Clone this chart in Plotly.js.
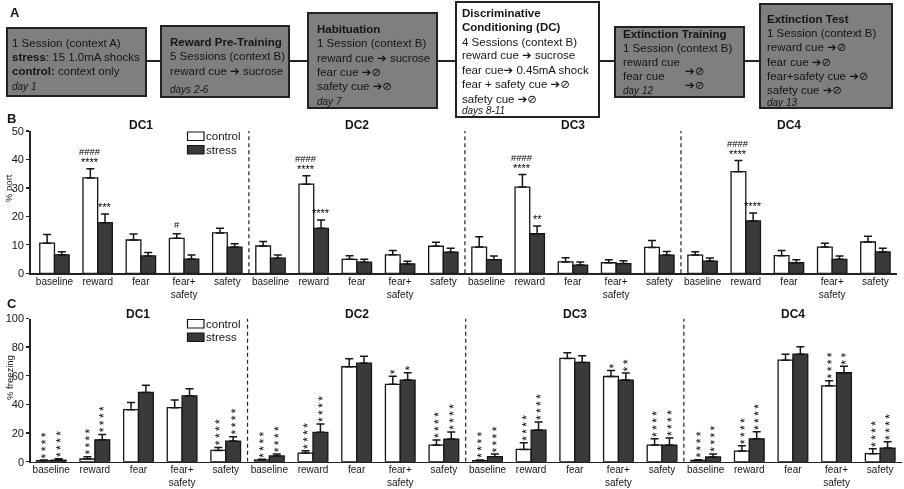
<!DOCTYPE html>
<html><head><meta charset="utf-8">
<script src="https://cdn.plot.ly/plotly-3.0.1.min.js"></script>
<style>html,body{margin:0;padding:0;background:#fff;overflow:hidden}
.main-svg{will-change:transform;opacity:0.999}</style>
</head><body><div id="chart" style="width:904px;height:489px"></div>
<script>
// ---------------- data ----------------
const sessions = ['DC1', 'DC2', 'DC3', 'DC4'];
const cues = ['baseline', 'reward', 'fear', 'fear+<br>safety', 'safety'];
const groups = ['control', 'stress'];

// Panel B: % port (DC1..DC4 x baseline,reward,fear,fear+safety,safety)
const portControl    = [10.6, 33.5, 11.7, 12.3, 14.2,  9.6, 31.3, 4.9, 6.5, 9.5,  9.2, 30.3, 4.0, 3.7, 9.1,  6.4, 35.7, 6.2, 9.2, 11.0];
const portControlErr = [3.0, 3.2, 2.1, 1.6, 1.6,  1.6, 3.0, 1.3, 1.5, 1.4,  3.6, 4.4, 1.5, 1.1, 2.4,  1.2, 3.9, 1.8, 1.4, 2.0];
const portStress     = [6.5, 17.8, 6.1, 5.0, 9.2,  5.3, 15.8, 3.9, 3.3, 7.4,  4.8, 13.9, 2.9, 3.4, 6.4,  4.3, 18.4, 3.7, 4.9, 7.5];
const portStressErr  = [1.1, 3.0, 1.2, 1.4, 1.2,  1.1, 2.9, 1.0, 0.9, 1.4,  1.3, 2.7, 1.1, 1.0, 1.3,  1.1, 2.8, 1.1, 1.2, 1.3];

// Panel C: % freezing
const freezeControl    = [0.7, 1.9, 36.3, 37.7, 7.9,  1.2, 6.0, 66.3, 54.0, 11.6,  0.7, 8.6, 72.1, 59.5, 11.6,  0.9, 7.4, 70.9, 53.0, 5.6];
const freezeControlErr = [0.4, 1.6, 5.1, 5.3, 2.1,  0.5, 1.6, 5.6, 5.6, 3.5,  0.4, 4.7, 3.9, 4.2, 4.4,  0.5, 3.7, 4.2, 3.5, 3.5];
const freezeStress     = [1.0, 15.3, 48.4, 46.0, 14.4,  4.0, 20.5, 68.8, 57.0, 15.8,  3.5, 22.1, 69.3, 57.0, 11.6,  3.3, 16.0, 75.1, 62.1, 9.5];
const freezeStressErr  = [1.0, 3.7, 4.9, 4.9, 3.0,  1.4, 5.8, 4.9, 5.1, 4.9,  1.8, 5.6, 4.7, 4.9, 4.9,  2.0, 4.9, 5.1, 4.6, 4.4];

// significance marks
const portHashControl = ['', '####', '', '#', '',  '', '####', '', '', '',  '', '####', '', '', '',  '', '####', '', '', ''];
const portStarControl = ['', '****', '', '', '',  '', '****', '', '', '',  '', '****', '', '', '',  '', '****', '', '', ''];
const portStarStress  = ['', '***', '', '', '',  '', '****', '', '', '',  '', '**', '', '', '',  '', '****', '', '', ''];
const freezeStarsControl = [4, 4, 0, 0, 4,  4, 4, 0, 1, 4,  4, 4, 0, 1, 4,  4, 4, 0, 4, 4];
const freezeStarsStress  = [4, 4, 0, 0, 4,  4, 4, 0, 1, 4,  4, 4, 0, 2, 4,  4, 4, 0, 2, 4];

// Panel A: protocol text
const AR = '<span style="font-family:DejaVu Sans">\u2794</span>', NO = '<span style="font-family:DejaVu Sans">\u2298</span>';
const box1Text = ['1 Session (context A)', '<b>stress</b>: 15 1.0mA shocks', '<b>control:</b> context only', '<i>day 1</i>'];
const box2Text = ['<b>Reward Pre-Training</b>', '5 Sessions (context B)', 'reward cue ' + AR + ' sucrose', '<i>days 2-6</i>'];
const box3Text = ['<b>Habituation</b>', '1 Session (context B)', 'reward cue ' + AR + ' sucrose', 'fear cue ' + AR + NO, 'safety cue ' + AR + NO, '<i>day 7</i>'];
const box4Text = ['<b>Discriminative</b>', '<b>Conditioning (DC)</b>', '4 Sessions (context B)', 'reward cue ' + AR + ' sucrose', 'fear cue' + AR + ' 0.45mA shock', 'fear + safety cue ' + AR + NO, 'safety cue ' + AR + NO, '<i>days 8-11</i>'];
const box5Text = ['<b>Extinction Training</b>', '1 Session (context B)', 'reward cue', 'fear cue', '<i>day 12</i>'];
const box5Arrows = [AR + NO, AR + NO];
const box6Text = ['<b>Extinction Test</b>', '1 Session (context B)', 'reward cue ' + AR + NO, 'fear cue ' + AR + NO, 'fear+safety cue ' + AR + NO, 'safety cue ' + AR + NO, '<i>day 13</i>'];

// ---------------- layout helpers ----------------
const W = 904, H = 489;
const px = x => x / W, py = y => 1 - y / H;
const F = 'Liberation Sans, Arial, Helvetica, sans-serif';
const INK = '#151515';
const AF = 11.5; // panel A text size

const idx = [], tickText = [];
sessions.forEach((s, si) => cues.forEach((c, ci) => { idx.push(si * cues.length + ci); tickText.push(c); }));
const zeros = idx.map(() => 0);
const sessionCenters = sessions.map((s, si) => si * cues.length + (cues.length - 1) / 2);
const dividers = sessions.slice(1).map((s, k) => (k + 1) * cues.length - 0.5);

const fills = { control: '#ffffff', stress: '#3a3a3a' };
function barTrace(y, err, grp, xa, ya) {
  return {
    type: 'bar', x: idx, y: y, name: grp, xaxis: xa, yaxis: ya, showlegend: false,
    marker: { color: fills[grp], line: { color: INK, width: 1.3 } },
    error_y: { type: 'data', symmetric: false, array: err, arrayminus: zeros, color: INK, thickness: 1.5, width: 4 },
    hoverinfo: 'skip'
  };
}
const traces = [
  barTrace(portControl, portControlErr, 'control', 'x', 'y'),
  barTrace(portStress, portStressErr, 'stress', 'x', 'y'),
  barTrace(freezeControl, freezeControlErr, 'control', 'x2', 'y2'),
  barTrace(freezeStress, freezeStressErr, 'stress', 'x2', 'y2')
];

const ann = [];
const shapes = [];
function txt(text, x, y, o) {
  ann.push(Object.assign({ text: text, x: px(x), y: py(y), xref: 'paper', yref: 'paper', showarrow: false,
    xanchor: 'left', yanchor: 'middle', font: { family: F, size: AF, color: INK } }, o || {}));
}

// ---- Panel A ----
const boxes = [
  { x0: 7, x1: 146, y0: 28, y1: 96, fill: '#7f7f7f', tx: 10, ly: [43, 57, 71, 87], text: box1Text },
  { x0: 161, x1: 289, y0: 26, y1: 97, fill: '#7f7f7f', tx: 168, ly: [42, 56, 70.5, 89], text: box2Text },
  { x0: 308, x1: 437, y0: 13, y1: 108, fill: '#7f7f7f', tx: 315, ly: [28.5, 43, 57.5, 72, 86.5, 101], text: box3Text },
  { x0: 456, x1: 599, y0: 2, y1: 117, fill: '#ffffff', tx: 460, ly: [12.5, 27, 41.5, 55, 69.5, 84, 98.5, 110.5], text: box4Text },
  { x0: 615, x1: 744, y0: 27, y1: 97, fill: '#7f7f7f', tx: 621, ly: [34, 48, 62, 75.5, 90.5], text: box5Text },
  { x0: 760, x1: 892, y0: 4, y1: 108, fill: '#7f7f7f', tx: 765, ly: [19.5, 33.5, 47.5, 62, 76, 90.5, 103], text: box6Text }
];
boxes.forEach((b, bi) => {
  shapes.push({ type: 'rect', xref: 'paper', yref: 'paper', x0: px(b.x0), x1: px(b.x1), y0: py(b.y0), y1: py(b.y1),
    fillcolor: b.fill, line: { color: '#222', width: 2 }, layer: 'below' });
  if (bi > 0) {
    const prev = boxes[bi - 1];
    shapes.push({ type: 'line', xref: 'paper', yref: 'paper', x0: px(prev.x1), x1: px(b.x0), y0: py(61), y1: py(61),
      line: { color: '#222', width: 2 } });
  }
  b.text.forEach((t, li) => {
    const isDay = t.indexOf('<i>') === 0;
    txt(t, b.tx, b.ly[li], { font: { family: F, size: isDay ? 10 : AF, color: INK } });
  });
});
txt(box5Arrows[0], 683, 68.5, { yanchor: 'top', yshift: 6 });
txt(box5Arrows[1], 683, 82, { yanchor: 'top', yshift: 6 });

// panel letters
txt('<b>A</b>', 8, 12.5, { font: { family: F, size: 13, color: INK } });
txt('<b>B</b>', 5, 118.5, { font: { family: F, size: 13, color: INK } });
txt('<b>C</b>', 5, 303, { font: { family: F, size: 13, color: INK } });

// ---- session titles ----
sessionCenters.forEach((c, i) => {
  ann.push({ text: '<b>' + sessions[i] + '</b>', x: c, xref: 'x', y: py(125), yref: 'paper', showarrow: false,
    xanchor: 'center', yanchor: 'middle', font: { family: F, size: 12, color: INK } });
  ann.push({ text: '<b>' + sessions[i] + '</b>', x: c, xref: 'x2', y: py(314), yref: 'paper', showarrow: false,
    xanchor: 'center', yanchor: 'middle', font: { family: F, size: 12, color: INK } });
});

// dividers
dividers.forEach(d => {
  shapes.push({ type: 'line', xref: 'x', yref: 'y', x0: d, x1: d, y0: 0, y1: 50, line: { color: '#222', width: 1.2, dash: '4px,3px' } });
  shapes.push({ type: 'line', xref: 'x2', yref: 'y2', x0: d, x1: d, y0: 0, y1: 100, line: { color: '#222', width: 1.2, dash: '4px,3px' } });
});

// custom legends
[[132, 145.5], [319.5, 333]].forEach(pair => {
  groups.forEach((g, gi) => {
    const top = pair[gi];
    shapes.push({ type: 'rect', xref: 'paper', yref: 'paper', x0: px(187.5), x1: px(204), y0: py(top), y1: py(top + 8.5),
      fillcolor: fills[g], line: { color: INK, width: 1.2 } });
    txt(g, 203.5, top + 4.3, { font: { family: F, size: 11.5, color: INK } });
  });
});

// axis titles
txt('% port', 9, 188, { xanchor: 'center', textangle: -90, font: { family: F, size: 9.5, color: INK } });
txt('% freezing', 9, 378, { xanchor: 'center', textangle: -90, font: { family: F, size: 9.5, color: INK } });

// significance in B
const OFF = 0.17;
idx.forEach(i => {
  const topC = portControl[i] + portControlErr[i];
  const topS = portStress[i] + portStressErr[i];
  if (portStarControl[i]) {
    ann.push({ text: portStarControl[i], x: i - OFF, xref: 'x', y: topC, yref: 'y', showarrow: false, xanchor: 'center', yanchor: 'bottom', yshift: -1, font: { family: F, size: 11, color: '#000' } });
  }
  if (portHashControl[i]) {
    ann.push({ text: portHashControl[i], x: i - OFF, xref: 'x', y: topC, yref: 'y', showarrow: false, xanchor: 'center', yanchor: 'bottom', yshift: portStarControl[i] ? 10 : 2, font: { family: F, size: 9.5, color: '#000' } });
  }
  if (portStarStress[i]) {
    ann.push({ text: portStarStress[i], x: i + OFF, xref: 'x', y: topS, yref: 'y', showarrow: false, xanchor: 'center', yanchor: 'bottom', yshift: -1, font: { family: F, size: 11, color: '#000' } });
  }
});

// significance in C (vertical stacks)
function stack(n) { return Array(n).fill('*').join('\u2009'); }
idx.forEach(i => {
  [[freezeStarsControl, freezeControl, freezeControlErr, -OFF], [freezeStarsStress, freezeStress, freezeStressErr, OFF]].forEach(s => {
    const n = s[0][i];
    if (!n) return;
    ann.push({ text: stack(n), x: i + s[3], xref: 'x2', y: s[1][i] + s[2][i], yref: 'y2', showarrow: false, textangle: -90,
      xanchor: 'center', yanchor: 'bottom', yshift: 0, xshift: 2.5, font: { family: F, size: 12, color: '#000' } });
  });
});

const xCommon = {
  tickmode: 'array', tickvals: idx, ticktext: tickText, ticks: '', showline: true, linecolor: '#222', linewidth: 1.5,
  showgrid: false, zeroline: false, tickfont: { family: F, size: 10, color: INK }, fixedrange: true, ticklabelstandoff: -2
};
const yCommon = {
  ticks: 'outside', ticklen: 3, tickwidth: 1.3, tickcolor: '#222', showline: true, linecolor: '#222', linewidth: 1.5,
  showgrid: false, zeroline: false, tickfont: { family: F, size: 11, color: INK }, fixedrange: true
};

const layout = {
  width: W, height: H, margin: { l: 0, r: 0, t: 0, b: 0 }, paper_bgcolor: '#fff', plot_bgcolor: 'rgba(0,0,0,0)',
  barmode: 'group', bargap: 0.32, bargroupgap: 0, showlegend: false,
  font: { family: F, color: INK },
  xaxis: Object.assign({}, xCommon, { domain: [px(30.7), px(897)], range: [-0.55, 19.5], anchor: 'y' }),
  yaxis: Object.assign({}, yCommon, { domain: [py(273.3), py(131)], range: [0, 50], tickvals: [0, 10, 20, 30, 40, 50], anchor: 'x' }),
  xaxis2: Object.assign({}, xCommon, { domain: [px(30.7), px(902)], range: [-0.47, 19.5], anchor: 'y2' }),
  yaxis2: Object.assign({}, yCommon, { domain: [py(461.7), py(318.5)], range: [0, 100], tickvals: [0, 20, 40, 60, 80, 100], anchor: 'x2' }),
  annotations: ann, shapes: shapes
};

Plotly.newPlot('chart', traces, layout, { displayModeBar: false, staticPlot: true });
</script></body></html>
